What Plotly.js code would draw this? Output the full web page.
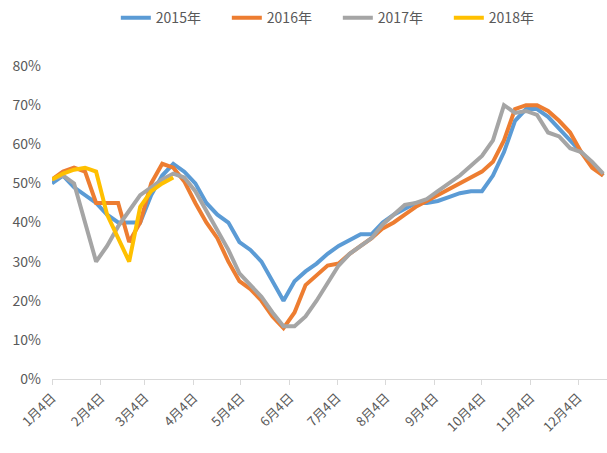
<!DOCTYPE html>
<html>
<head>
<meta charset="utf-8">
<script src="https://cdn.plot.ly/plotly-3.0.1.min.js"></script>
<style>html,body{margin:0;padding:0;background:#fff;}#chart{width:607px;height:453px;}</style>
</head>
<body>
<div id="chart"></div>
<script>
const weeks = ["2015-01-04","2015-01-11","2015-01-18","2015-01-25","2015-02-01","2015-02-08","2015-02-15","2015-02-22",
"2015-03-01","2015-03-08","2015-03-15","2015-03-22","2015-03-29","2015-04-05","2015-04-12","2015-04-19","2015-04-26",
"2015-05-03","2015-05-10","2015-05-17","2015-05-24","2015-05-31","2015-06-07","2015-06-14","2015-06-21","2015-06-28",
"2015-07-05","2015-07-12","2015-07-19","2015-07-26","2015-08-02","2015-08-09","2015-08-16","2015-08-23","2015-08-30",
"2015-09-06","2015-09-13","2015-09-20","2015-09-27","2015-10-04","2015-10-11","2015-10-18","2015-10-25",
"2015-11-01","2015-11-08","2015-11-15","2015-11-22","2015-11-29","2015-12-06","2015-12-13","2015-12-20"];

const s2015 = [50,52,49,47,45,42,40,40,40,47,52,55,53,50,45,42,40,35,33,30,25,20,25,27.5,29.5,32,34,35.5,37,37,40,42,43.5,45,45,45.5,46.5,47.5,48,48,52,58,66,69,69,67,64,61,58,55,52];
const s2016 = [51,53,54,53,45,45,45,35,40,50,55,54,50.5,45,40,36,30,25,23,20,16,13,17,24,26.5,29,29.5,32,34,36,38.5,40,42,44,45.5,47,48.5,50,51.5,53,55.5,61,69,70,70,68.5,66,63,58,54,52];
const s2017 = [51,52,50,40,30,34,39,43,47,49,51,52.5,51.5,48,43,38,33,27,24,21,17,13.5,13.5,16,20,24.5,29,32,34,36,39.5,42,44.5,45,46,48,50,52,54.5,57,61,70,68,68.5,67.5,63,62,59,58,55.5,52.5];
const s2018 = [51,52.5,53.5,54,53,42,36,30,44,48,50,51.5];

const tickDates = ["2015-01-04","2015-02-04","2015-03-04","2015-04-04","2015-05-04","2015-06-04","2015-07-04","2015-08-04","2015-09-04","2015-10-04","2015-11-04","2015-12-04"];
const tickLabels = ["1月4日","2月4日","3月4日","4月4日","5月4日","6月4日","7月4日","8月4日","9月4日","10月4日","11月4日","12月4日"];
const yTicks = [0,10,20,30,40,50,60,70,80];

const names = ["2015年","2016年","2017年","2018年"];
const colors = ["#5B9BD5","#ED7D31","#A5A5A5","#FFC000"];
const series = [s2015,s2016,s2017,s2018];

const FONT = '"Noto Sans CJK SC","Noto Sans",sans-serif';

const traces = series.map((s,i)=>({
  x: weeks.slice(0,s.length), y: s, name: names[i], type:'scatter', mode:'lines',
  line:{color:colors[i], width:4}
}));

const layout = {
  width:607, height:453,
  margin:{l:52, r:0, t:66, b:74},
  paper_bgcolor:'#fff', plot_bgcolor:'#fff',
  font:{family:FONT, size:13, color:'#595959'},
  showlegend:true,
  legend:{orientation:'h', x:0.515, xanchor:'center', y:0.995, yref:'container', yanchor:'top',
          entrywidth:66, font:{size:14, color:'#595959', family:FONT}},
  xaxis:{type:'date', range:['2015-01-04','2015-12-22 10:00'], tickmode:'array', tickvals:tickDates, ticktext:tickLabels,
         tickangle:-45, showgrid:false, zeroline:false, showline:true, linecolor:'#D9D9D9', linewidth:1,
         ticks:'outside', ticklen:5, tickcolor:'#D9D9D9', tickfont:{size:13, color:'#595959', family:FONT}},
  yaxis:{range:[0,80], tickmode:'array', tickvals:yTicks, ticktext:yTicks.map(v=>v+'%'), showgrid:false, zeroline:false,
         showline:false, ticks:'', ticklabelstandoff:10, tickfont:{size:14, color:'#595959', family:FONT}}
};

Plotly.newPlot('chart', traces, layout, {displayModeBar:false, staticPlot:true});
</script>
</body>
</html>
